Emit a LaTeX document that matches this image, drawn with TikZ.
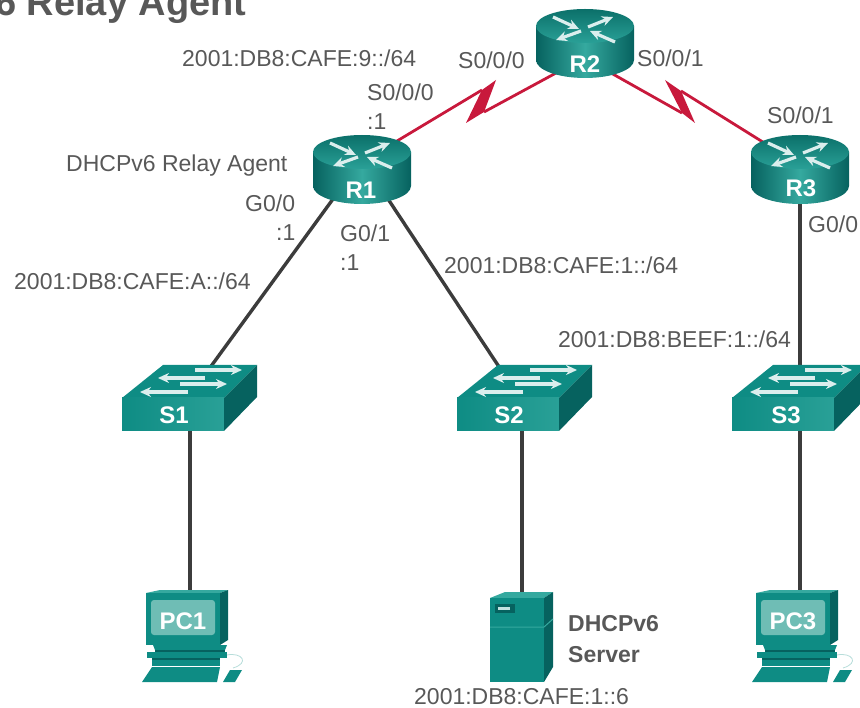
\documentclass[tikz,border=0pt]{standalone}
\usepackage{fontspec}
\setmainfont{Liberation Sans}
\usepackage{tikz}
\usetikzlibrary{arrows.meta,backgrounds}

\definecolor{ciscoteal}{HTML}{0E8C84}
\definecolor{ciscodark}{HTML}{06625F}
\definecolor{ciscolight}{HTML}{35A99F}
\definecolor{ciscoscreen}{HTML}{6FBDB5}
\definecolor{labelgray}{HTML}{585858}
\definecolor{serialred}{HTML}{C8193C}
\definecolor{linkgray}{HTML}{3C3C3C}

\tikzset{
  addr/.style={anchor=west,inner sep=0pt,text=labelgray,font=\fontsize{23}{27}\selectfont},
  bolt/.style={anchor=west,inner sep=0pt,text=labelgray,font=\fontsize{23}{27}\selectfont\bfseries},
  devname/.style={inner sep=0pt,text=white,font=\fontsize{24}{27}\selectfont\bfseries},
  ethlink/.style={draw=linkgray,line width=3.4pt},
  serlink/.style={draw=serialred,line width=2.8pt},
  whitearrow/.style={white!85!ciscoteal,line width=3.2pt,-{Stealth[length=11pt,width=10pt]}},
  router/.pic={
    \coordinate (-nw) at (30,-25); \coordinate (-ne) at (-34,-25);
    \coordinate (-se) at (26,30); \coordinate (-sw) at (-29,30); \coordinate (-s) at (0,30);
    \path[left color=ciscodark,right color=ciscodark,middle color=ciscolight]
      (-49,-17) -- (-49,17) arc[start angle=180,end angle=0,x radius=49,y radius=18] -- (49,-17) -- cycle;
    \path[top color=ciscoteal!80!black,bottom color=ciscolight!70!ciscoteal]
      (0,-17) ellipse[x radius=49,y radius=17];
    \draw[whitearrow] (-32,-26) -- (-6,-14);
    \draw[whitearrow] (3,-16) -- (28,-26);
    \draw[whitearrow] (-4,-12) -- (-29,-3);
    \draw[whitearrow] (30,-1) -- (5,-12);
  },
  switchbox/.pic={
    \coordinate (-n) at (3,-10); \coordinate (-nw) at (-10,-10); \coordinate (-s) at (0,20);
    \fill[ciscoteal] (-68,-3) -- (-27,-36) -- (67,-36) -- (34,-3) -- cycle;
    \path[left color=ciscoteal,right color=ciscolight!70!ciscoteal] (-68,-3) rectangle (34,30);
    \fill[ciscodark] (34,-3) -- (67,-36) -- (67,-4) -- (34,30) -- cycle;
    \draw[whitearrow] (5,-31) -- (52,-31);
    \draw[whitearrow] (15,-23) -- (-32,-23);
    \draw[whitearrow] (-10,-17) -- (37,-17);
    \draw[whitearrow] (-2,-9) -- (-50,-9);
  },
  desktop/.pic={
    \coordinate (-n) at (0,-10);
    \fill[ciscolight] (-44,-14) -- (-30,-17) -- (38,-17) -- (30,-14) -- cycle;
    \fill[ciscodark] (30,-14) -- (38,-17) -- (38,33) -- (30,38) -- cycle;
    \fill[ciscoteal] (-44,-14) rectangle (30,38);
    \fill[ciscoscreen,rounded corners=3pt] (-39,-7) rectangle (25,28);
    \fill[ciscoteal] (-37,38) -- (37,38) -- (35,43) -- (-35,43) -- cycle;
    \fill[ciscodark] (-35,43) rectangle (35,45);
    \fill[ciscoteal] (-43,45) -- (37,45) -- (37,51) -- (-43,51) -- cycle;
    \fill[ciscodark] (-38,51) rectangle (30,53);
    \fill[ciscoteal] (-38,53) rectangle (30,59);
    \fill[ciscoteal] (-48,75) -- (-38,60) -- (30,60) -- (27,75) -- cycle;
    \fill[ciscoteal] (33,75) -- (40,63) -- (52,63) -- (45,75) -- cycle;
    \draw[white!70!ciscoteal,line width=.8pt] (37,48) .. controls (52,45) and (60,56) .. (43,61);
  },
  tower/.pic={
    \coordinate (-n) at (0,0);
    \fill[ciscolight] (-32,0) -- (-17,-6) -- (31,-6) -- (22,0) -- cycle;
    \fill[ciscodark] (22,0) -- (31,-6) -- (31,69) -- (22,84) -- cycle;
    \fill[ciscoteal] (-32,0) rectangle (22,84);
    \draw[ciscolight,line width=1pt] (-32,29) -- (22,29) -- (31,21);
    \fill[ciscodark] (-27,6) rectangle (-7,15);
    \fill[white!75!ciscoteal] (-24,9) rectangle (-12,12);
  },
}

\begin{document}
\begin{tikzpicture}[x=1pt,y=-1pt]
  \useasboundingbox (0,0) rectangle (860,708);
  \clip (0,0) rectangle (860,708);

  \pic (R1) at (362,169) {router}; \pic (R2) at (585,43) {router}; \pic (R3) at (800,169) {router};
  \pic (S1) at (190,401) {switchbox}; \pic (S2) at (525,401) {switchbox}; \pic (S3) at (800,401) {switchbox};
  \pic (PC1) at (190,607) {desktop}; \pic (PC3) at (800,607) {desktop};
  \pic (SRV) at (522,598) {tower};

  \node[devname] (lR1) at (361,190) {R1}; \node[devname] (lR2) at (585,64) {R2}; \node[devname] (lR3) at (801,188) {R3};
  \node[devname] (lS1) at (174,415) {S1}; \node[devname] (lS2) at (509,415) {S2}; \node[devname] (lS3) at (786,415) {S3};
  \node[devname] (lPC1) at (183,621) {PC1}; \node[devname] (lPC3) at (793,621) {PC3};

  \begin{scope}[on background layer]
    % serial zigzags
    \coordinate (zz1a) at (496,80); \coordinate (zz1b) at (484,112);
    \coordinate (zz1c) at (466,123); \coordinate (zz1d) at (482,90);
    \coordinate (zz2a) at (665,80); \coordinate (zz2b) at (681,91);
    \coordinate (zz2c) at (695,123); \coordinate (zz2d) at (682,113);
    \draw[serlink] (R1-nw) -- (zz1d); \draw[serlink] (zz1b) -- (R2-sw);
    \fill[serialred] (zz1a) -- (zz1b) -- (zz1c) -- (zz1d) -- cycle;
    \draw[serlink] (R2-se) -- (zz2d); \draw[serlink] (zz2b) -- (R3-ne);
    \fill[serialred] (zz2a) -- (zz2b) -- (zz2c) -- (zz2d) -- cycle;
    % ethernet
    \draw[ethlink] (R1-sw) -- (S1-n);
    \draw[ethlink] (R1-se) -- (S2-nw);
    \draw[ethlink] (R3-s) -- (S3-s);
    \draw[ethlink] (S1-s) -- (PC1-n);
    \draw[ethlink] (SRV-n |- S2-s) -- (SRV-n);
    \draw[ethlink] (S3-s) -- (PC3-n);
  \end{scope}

  \node[anchor=base west,inner sep=0pt,text=labelgray,font=\fontsize{38}{40}\selectfont\bfseries] (ttl) at (-5,16) {6 Relay Agent};
  \node[addr] (n9) at (182,58) {2001:DB8:CAFE:9::/64};
  \node[addr] (sR1) at (367,92) {S0/0/0};
  \node[addr] (aR1s) at (367,122) {:1};
  \node[addr] (sR2a) at (458,60) {S0/0/0};
  \node[addr] (sR2b) at (637,58) {S0/0/1};
  \node[addr] (sR3) at (767,115) {S0/0/1};
  \node[addr] (rly) at (66,166) {DHCPv6 Relay Agent};
  \node[addr] (g00) at (245,203) {G0/0};
  \node[addr] (a00) at (276,233) {:1};
  \node[addr] (g01) at (340,233) {G0/1};
  \node[addr] (a01) at (340,263) {:1};
  \node[addr] (nA) at (14,281) {2001:DB8:CAFE:A::/64};
  \node[addr] (n1) at (444,265) {2001:DB8:CAFE:1::/64};
  \node[addr] (g3) at (808,224) {G0/0};
  \node[addr] (nB) at (558,339) {2001:DB8:BEEF:1::/64};
  \node[bolt] (sv1) at (568,624) {DHCPv6};
  \node[bolt] (sv2) at (568,655) {Server};
  \node[addr] (hst) at (414,697) {2001:DB8:CAFE:1::6};
\end{tikzpicture}
\end{document}
